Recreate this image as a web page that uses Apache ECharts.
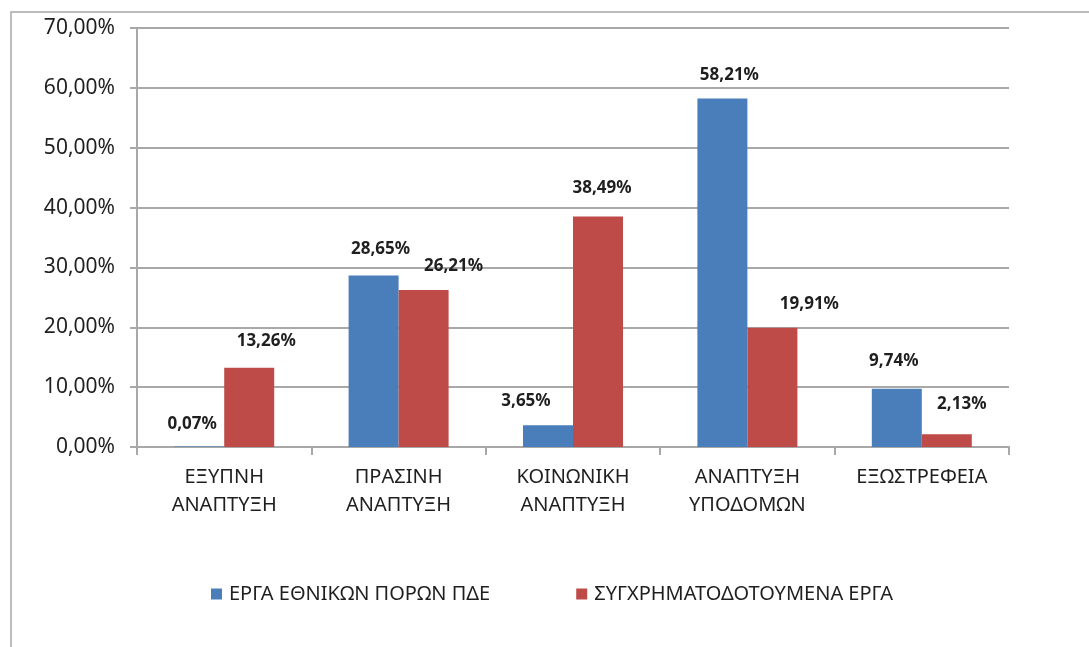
<!DOCTYPE html>
<html>
<head>
<meta charset="utf-8">
<script src="https://cdn.jsdelivr.net/npm/echarts@6/dist/echarts.min.js"></script>
<style>
html, body { margin: 0; padding: 0; background: #fff; }
#chart { width: 1089px; height: 647px; }
</style>
</head>
<body>
<div id="chart"></div>
<script>
// κατηγορίες και τιμές (%)
var categories = ['ΕΞΥΠΝΗ\nΑΝΑΠΤΥΞΗ', 'ΠΡΑΣΙΝΗ\nΑΝΑΠΤΥΞΗ', 'ΚΟΙΝΩΝΙΚΗ\nΑΝΑΠΤΥΞΗ', 'ΑΝΑΠΤΥΞΗ\nΥΠΟΔΟΜΩΝ', 'ΕΞΩΣΤΡΕΦΕΙΑ'];
var seriesNames = ['ΕΡΓΑ ΕΘΝΙΚΩΝ ΠΟΡΩΝ ΠΔΕ', 'ΣΥΓΧΡΗΜΑΤΟΔΟΤΟΥΜΕΝΑ ΕΡΓΑ'];
var nationalValues = [0.07, 28.65, 3.65, 58.21, 9.74];
var cofundedValues = [13.26, 26.21, 38.49, 19.91, 2.13];
var yTicks = [0, 10, 20, 30, 40, 50, 60, 70];

// μετατόπιση ετικετών όπως στο πρωτότυπο
var nationalShift = [[-7, 1], [7, -3], [-22, 0], [7, 0], [-3, -4]];
var cofundedShift = [[17, -3], [30, 0], [4, -5], [37, 0], [15, -7]];

var font = 'Noto Sans';
var textColor = '#1f1f1f';
var lineColor = '#a8a8a8';

function pct(v) {
    return v.toFixed(2).replace('.', ',') + '%';
}

function withShift(values, shifts) {
    return values.map(function (v, i) {
        return { value: v, label: { offset: shifts[i] } };
    });
}

var myChart = echarts.init(document.getElementById('chart'));
var option = {
    animation: false,
    graphic: [{
        type: 'rect',
        shape: { x: 11, y: 12, width: 1200, height: 1000 },
        style: { fill: 'none', stroke: lineColor, lineWidth: 1.5 }
    }],
    grid: {
        left: 137,
        right: 80,
        top: 28,
        bottom: 200
    },
    legend: {
        left: 206,
        top: 579,
        itemWidth: 11,
        itemHeight: 11,
        itemGap: 86,
        icon: 'rect',
        textStyle: { fontFamily: font, fontSize: 20, color: textColor, padding: [0, 0, 0, 2] },
        data: seriesNames
    },
    xAxis: {
        type: 'category',
        data: categories,
        axisLine: { lineStyle: { color: lineColor, width: 2 } },
        axisTick: { show: true, length: 8, lineStyle: { color: lineColor, width: 2 } },
        axisLabel: {
            fontFamily: font,
            fontSize: 20,
            color: textColor,
            lineHeight: 28,
            margin: 16,
            interval: 0
        }
    },
    yAxis: {
        type: 'value',
        min: 0,
        max: 70,
        interval: 10,
        axisLine: { show: true, lineStyle: { color: lineColor, width: 2 } },
        axisTick: { show: true, length: 7, lineStyle: { color: lineColor, width: 2 } },
        splitLine: { lineStyle: { color: lineColor, width: 2 } },
        axisLabel: {
            fontFamily: font,
            fontSize: 21,
            color: textColor,
            margin: 22,
            formatter: function (v) { return yTicks.indexOf(v) >= 0 ? pct(v) : ''; }
        }
    },
    series: [
        {
            name: seriesNames[0],
            type: 'bar',
            barWidth: 50,
            barGap: '0%',
            data: withShift(nationalValues, nationalShift),
            itemStyle: { color: '#4a7ebb' },
            label: {
                show: true,
                position: 'top',
                distance: 15,
                fontFamily: font,
                fontSize: 17,
                fontWeight: 'bold',
                color: textColor,
                formatter: function (p) { return pct(p.value); }
            }
        },
        {
            name: seriesNames[1],
            type: 'bar',
            barWidth: 50,
            data: withShift(cofundedValues, cofundedShift),
            itemStyle: { color: '#be4b48' },
            label: {
                show: true,
                position: 'top',
                distance: 15,
                fontFamily: font,
                fontSize: 17,
                fontWeight: 'bold',
                color: textColor,
                formatter: function (p) { return pct(p.value); }
            }
        }
    ]
};
myChart.setOption(option);
</script>
</body>
</html>
